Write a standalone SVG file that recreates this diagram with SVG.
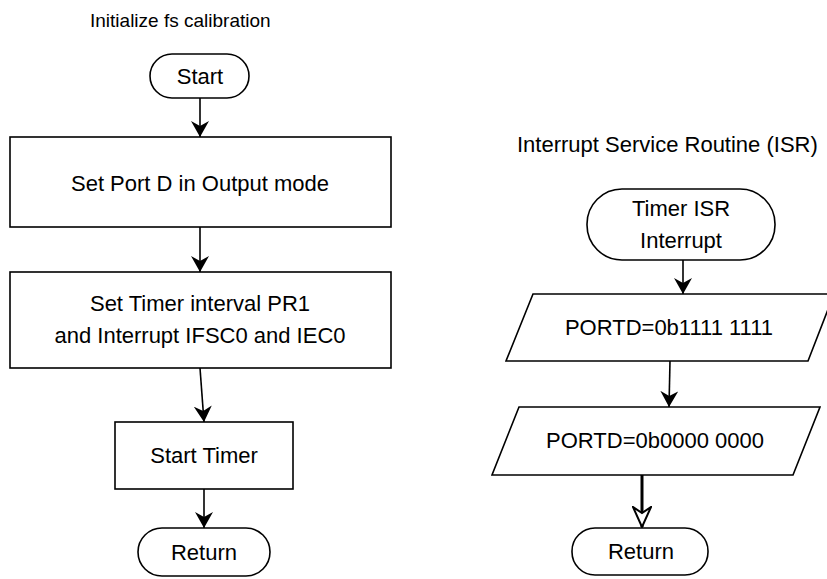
<svg xmlns="http://www.w3.org/2000/svg" width="827" height="579" viewBox="0 0 827 579">
  <style>
    .shape { fill: #ffffff; stroke: #000000; stroke-width: 1.6; }
    .label { font-family: "Liberation Sans", Arial, sans-serif; font-size: 22px; fill: #000000; text-anchor: middle; dominant-baseline: central; }
    .title { font-family: "Liberation Sans", Arial, sans-serif; fill: #000000; }
    .flow { fill: none; stroke: #000000; stroke-width: 1.6; }
    .flow-bold { fill: none; stroke: #000000; stroke-width: 3; }
  </style>
  <defs>
    <marker id="arrow" viewBox="0 0 16 18" refX="16" refY="9" markerWidth="16" markerHeight="18" markerUnits="userSpaceOnUse" orient="auto">
      <path d="M0,0 L16,9 L0,18 L5,9 Z" fill="#000000"/>
    </marker>
    <marker id="arrow-open" viewBox="0 0 22 20" refX="21" refY="10" markerWidth="22" markerHeight="20" markerUnits="userSpaceOnUse" orient="auto">
      <path d="M1,1 L21,10 L1,19 L7,10 Z" fill="#ffffff" stroke="#000000" stroke-width="2"/>
    </marker>
  </defs>

  <rect width="827" height="579" fill="#ffffff"/>

  <text class="title" x="90" y="27" font-size="19">Initialize fs calibration</text>
  <text class="title" x="517" y="152" font-size="22">Interrupt Service Routine (ISR)</text>

  <!-- initialisation flow -->
  <g id="start">
    <rect class="shape" x="150" y="54" width="99" height="44" rx="22" ry="22"/>
    <text class="label" x="200" y="76">Start</text>
  </g>
  <g id="set-port-d">
    <rect class="shape" x="10" y="137" width="381" height="90"/>
    <text class="label" x="200" y="183">Set Port D in Output mode</text>
  </g>
  <g id="set-timer">
    <rect class="shape" x="10" y="272" width="381" height="96"/>
    <text class="label" x="200" y="303">Set Timer interval PR1</text>
    <text class="label" x="200" y="335">and Interrupt IFSC0 and IEC0</text>
  </g>
  <g id="start-timer">
    <rect class="shape" x="115" y="422" width="178" height="67"/>
    <text class="label" x="204" y="455">Start Timer</text>
  </g>
  <g id="return-init">
    <rect class="shape" x="138" y="528" width="132" height="48" rx="24" ry="24"/>
    <text class="label" x="204" y="552">Return</text>
  </g>

  <!-- interrupt service routine -->
  <g id="timer-isr">
    <rect class="shape" x="587" y="189" width="188" height="71" rx="35" ry="35"/>
    <text class="label" x="681" y="208">Timer ISR</text>
    <text class="label" x="681" y="240">Interrupt</text>
  </g>
  <g id="portd-high">
    <polygon class="shape" points="533,294 834,294 808,361 506,361"/>
    <text class="label" x="669" y="327">PORTD=0b1111 1111</text>
  </g>
  <g id="portd-low">
    <polygon class="shape" points="519,407 820,407 793,475 492,475"/>
    <text class="label" x="655" y="440">PORTD=0b0000 0000</text>
  </g>
  <g id="return-isr">
    <rect class="shape" x="572" y="528" width="136" height="47" rx="23" ry="23"/>
    <text class="label" x="641" y="551">Return</text>
  </g>

  <g id="connectors">
    <line class="flow" x1="200" y1="98" x2="200" y2="137" marker-end="url(#arrow)"/>
    <line class="flow" x1="200" y1="227" x2="200" y2="272" marker-end="url(#arrow)"/>
    <line class="flow" x1="200" y1="368" x2="204" y2="422" marker-end="url(#arrow)"/>
    <line class="flow" x1="204" y1="489" x2="204" y2="528" marker-end="url(#arrow)"/>
    <line class="flow" x1="683" y1="260" x2="683" y2="294" marker-end="url(#arrow)"/>
    <line class="flow" x1="670" y1="361" x2="669" y2="407" marker-end="url(#arrow)"/>
    <line class="flow-bold" x1="642" y1="475" x2="642" y2="527" marker-end="url(#arrow-open)"/>
  </g>
</svg>
